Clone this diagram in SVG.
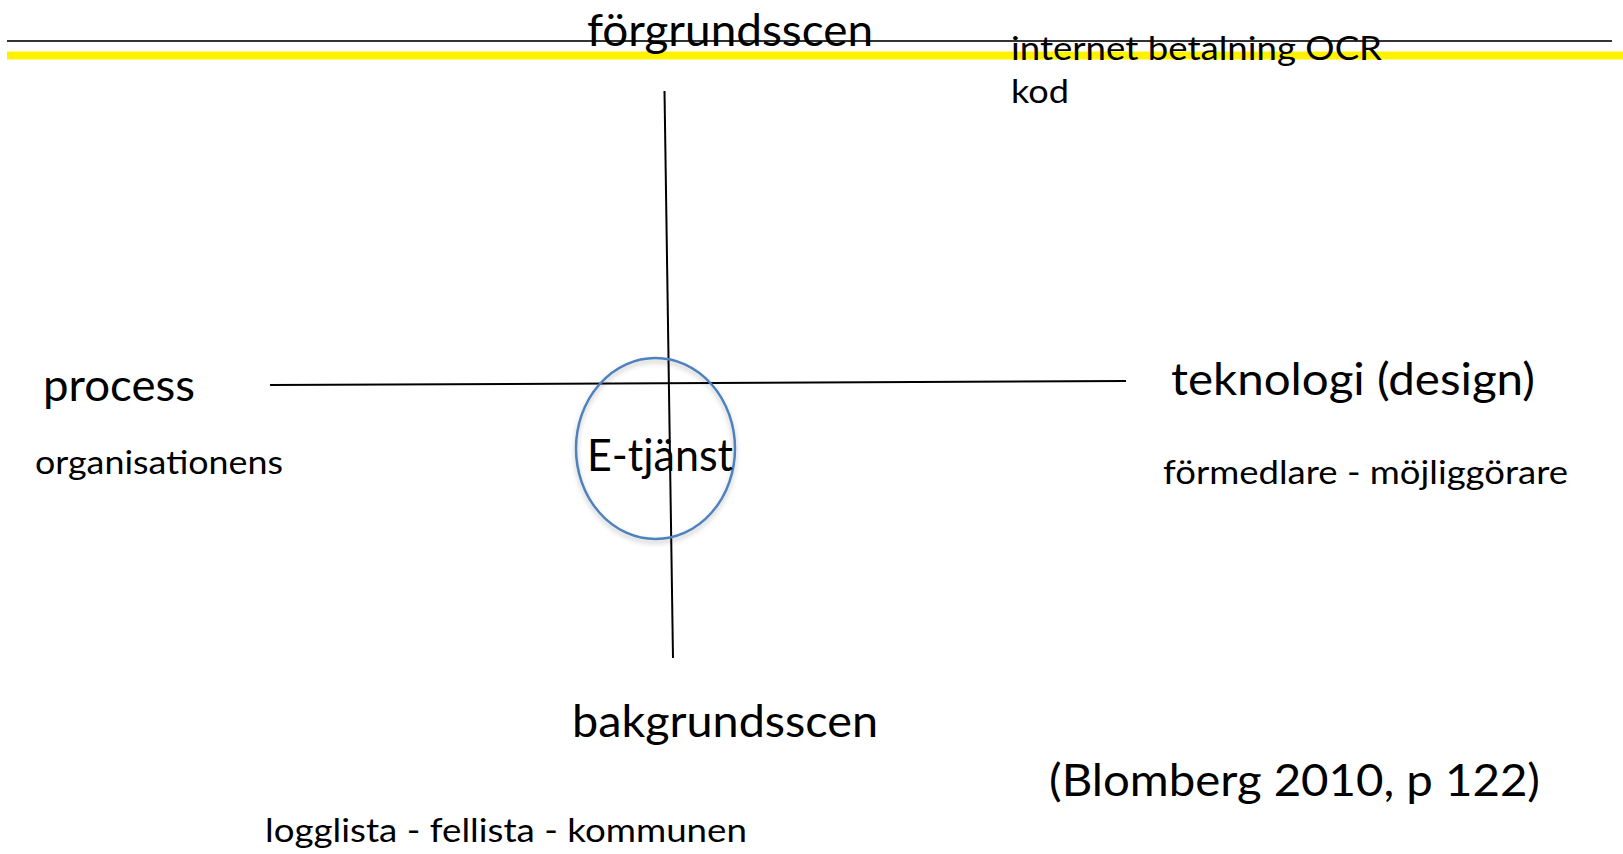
<svg xmlns="http://www.w3.org/2000/svg" width="1623" height="854" viewBox="0 0 1623 854">
  <defs>
    <style>
      .t { font-family: Lato, "Open Sans", "Liberation Sans", sans-serif; font-weight: 400; fill: #000; }
      .big { font-size: 44px; }
      .small { font-size: 33px; }
      .axis { stroke: #000; stroke-width: 2; fill: none; }
    </style>
    <filter id="sh" x="-20%" y="-20%" width="140%" height="140%">
      <feDropShadow dx="0" dy="3" stdDeviation="2.5" flood-color="#000" flood-opacity="0.25"/>
    </filter>
  </defs>
  <rect width="1623" height="854" fill="#fff"/>
  <g id="header">
    <rect x="7" y="51.5" width="1616" height="8" fill="#FFF200"/>
    <line x1="7" y1="41" x2="1612" y2="41" stroke="#333" stroke-width="1.8"/>
  </g>
  <g id="connectors">
    <line class="axis" x1="664.5" y1="91" x2="673" y2="658"/>
    <line class="axis" x1="270" y1="385" x2="1126" y2="381"/>
  </g>
  <g id="node-forgrund">
    <text class="t big" x="587" y="46" textLength="286" lengthAdjust="spacingAndGlyphs">förgrundsscen</text>
  </g>
  <g id="node-internet">
    <text class="t small" x="1011" y="60" textLength="371" lengthAdjust="spacingAndGlyphs">internet betalning OCR</text>
    <text class="t small" x="1011" y="103" textLength="58" lengthAdjust="spacingAndGlyphs">kod</text>
  </g>
  <g id="node-process">
    <text class="t big" x="43" y="401" textLength="152" lengthAdjust="spacingAndGlyphs">process</text>
    <text class="t small" x="35" y="474" textLength="248" lengthAdjust="spacingAndGlyphs">organisationens</text>
  </g>
  <g id="node-teknologi">
    <text class="t big" x="1171" y="395" textLength="364" lengthAdjust="spacingAndGlyphs">teknologi (design)</text>
    <text class="t small" x="1163" y="484" textLength="405" lengthAdjust="spacingAndGlyphs">förmedlare - möjliggörare</text>
  </g>
  <g id="node-etjanst">
    <ellipse cx="655.5" cy="448.5" rx="79.5" ry="90.5" fill="none" stroke="#4F81BD" stroke-width="2.5" filter="url(#sh)"/>
    <text class="t big" x="587" y="471" textLength="146" lengthAdjust="spacingAndGlyphs">E-tjänst</text>
  </g>
  <g id="node-bakgrund">
    <text class="t big" x="572" y="737" textLength="306" lengthAdjust="spacingAndGlyphs">bakgrundsscen</text>
    <text class="t small" x="265" y="842" textLength="482" lengthAdjust="spacingAndGlyphs">logglista - fellista - kommunen</text>
  </g>
  <g id="node-citation">
    <text class="t big" x="1049" y="796" textLength="491" lengthAdjust="spacingAndGlyphs">(Blomberg 2010, p 122)</text>
  </g>
</svg>
